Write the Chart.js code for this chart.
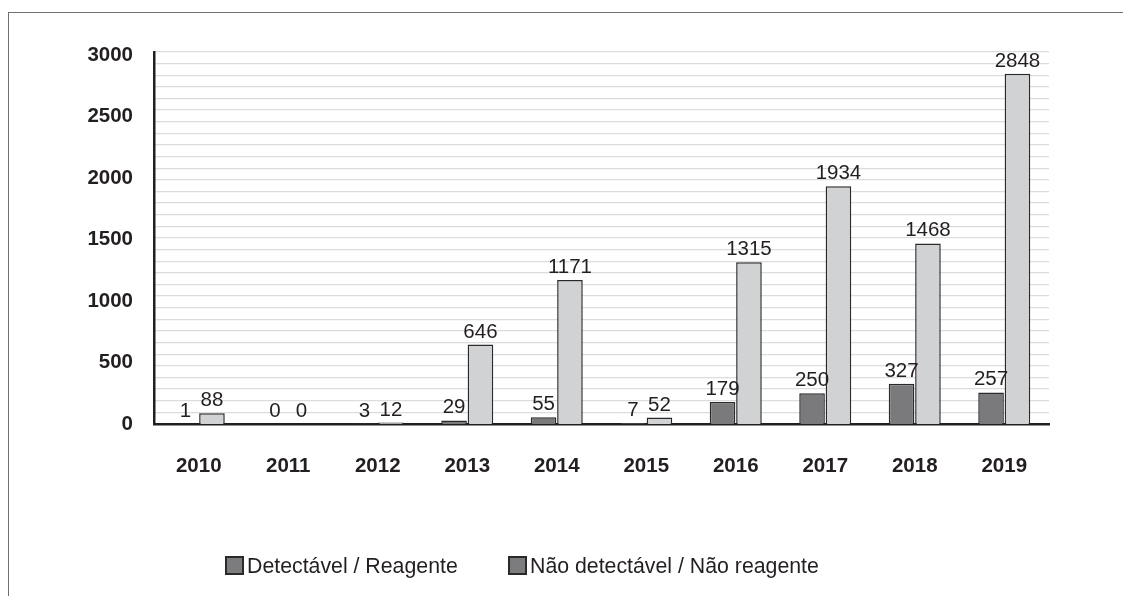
<!DOCTYPE html>
<html>
<head>
<meta charset="utf-8">
<script src="https://cdn.jsdelivr.net/npm/chart.js@4"></script>
<style>
  html, body { margin: 0; padding: 0; background: #fff; }
  #wrap { position: relative; width: 1123px; height: 596px; overflow: hidden; }
  #frame { position: absolute; left: 8px; top: 12px; width: 1200px; height: 700px;
           border-left: 1.5px solid #707070; border-top: 1.5px solid #707070; }
  #chart { position: absolute; left: 0; top: 0; }
  .leg { position: absolute; top: 554px; font: 21.3px "Liberation Sans", Arial, sans-serif;
         color: #231f20; white-space: nowrap; line-height: 24px; }
  .leg i { display: inline-block; width: 15px; height: 15px; border: 2px solid #2a2a2a;
           background: #7c7c7e; vertical-align: -2px; margin-right: 3px; }
</style>
</head>
<body>
<div id="wrap">
  <div id="frame"></div>
  <canvas id="chart" width="1123" height="596"></canvas>
  <div class="leg" style="left:225px"><i></i>Detectável / Reagente</div>
  <div class="leg" style="left:508px"><i></i>Não detectável / Não reagente</div>
</div>
<script>
const years = ['2010', '2011', '2012', '2013', '2014', '2015', '2016', '2017', '2018', '2019'];
const detectavel = [1, 0, 3, 29, 55, 7, 179, 250, 327, 257];
const naoDetectavel = [88, 0, 12, 646, 1171, 52, 1315, 1934, 1468, 2848];
const yTicks = [0, 500, 1000, 1500, 2000, 2500, 3000];

const valueLabels = {
  id: 'valueLabels',
  afterDatasetsDraw(chart) {
    const ctx = chart.ctx;
    ctx.save();
    ctx.font = '20.5px "Liberation Sans", Arial, sans-serif';
    ctx.fillStyle = '#231f20';
    ctx.textAlign = 'center';
    ctx.textBaseline = 'alphabetic';
    chart.data.datasets.forEach((ds, i) => {
      chart.getDatasetMeta(i).data.forEach((bar, j) => {
        ctx.fillText(String(ds.data[j]), bar.x, bar.y - 7);
      });
    });
    ctx.restore();
  }
};

new Chart(document.getElementById('chart'), {
  type: 'bar',
  data: {
    labels: years,
    datasets: [
      {
        label: 'Detectável / Reagente',
        data: detectavel,
        backgroundColor: '#7a7a7c',
        borderColor: '#2a2a2a',
        borderWidth: 1.5,
        borderSkipped: 'bottom'
      },
      {
        label: 'Não detectável / Não reagente',
        data: naoDetectavel,
        backgroundColor: '#d1d2d4',
        borderColor: '#2a2a2a',
        borderWidth: 1.5,
        borderSkipped: 'bottom'
      }
    ]
  },
  options: {
    responsive: false,
    animation: false,
    categoryPercentage: 0.59,
    barPercentage: 0.97,
    layout: { padding: { left: 0, right: 74, top: 52, bottom: 0 } },
    plugins: { legend: { display: false }, tooltip: { enabled: false } },
    scales: {
      x: {
        grid: { display: false, drawTicks: false },
        border: { color: '#231f20', width: 2.5 },
        ticks: {
          color: '#231f20',
          font: { family: '"Liberation Sans", Arial, sans-serif', size: 20.5, weight: 'bold' },
          padding: 30
        },
        afterFit(s) { s.height = 172; }
      },
      y: {
        min: 0,
        max: 3025,
        grid: { display: false, drawTicks: false },
        border: { color: '#231f20', width: 2.5 },
        afterBuildTicks(s) { s.ticks = yTicks.map(v => ({ value: v })); },
        ticks: {
          color: '#231f20',
          font: { family: '"Liberation Sans", Arial, sans-serif', size: 20.5, weight: 'bold' },
          padding: 21,
          callback: v => String(v)
        },
        afterFit(s) { s.width = 154; }
      },
      g: {
        position: 'right',
        min: 0,
        max: 32,
        grid: {
          drawTicks: false,
          color: ctx => (ctx.tick && ctx.tick.value === 0) ? 'rgba(0,0,0,0)' : '#dcdcdc',
          lineWidth: 1.3
        },
        border: { display: false },
        ticks: { display: false, stepSize: 1 },
        afterFit(s) { s.width = 0; }
      }
    }
  },
  plugins: [valueLabels]
});
</script>
</body>
</html>
